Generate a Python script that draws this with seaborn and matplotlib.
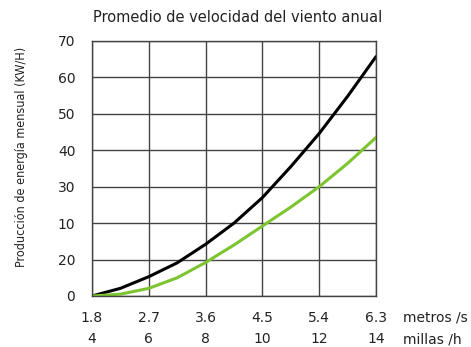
import pandas as pd
import matplotlib
matplotlib.use("Agg")
import matplotlib.pyplot as plt
import seaborn as sns

# wind speed (m/s) and matching mph labels
speed_ms = [1.8, 2.25, 2.7, 3.15, 3.6, 4.05, 4.5, 4.95, 5.4, 5.85, 6.3]
tick_ms = ["1.8", "2.7", "3.6", "4.5", "5.4", "6.3"]
tick_mph = ["4", "6", "8", "10", "12", "14"]

# monthly energy
energy_black = [0, 2.1, 5.3, 9.1, 14.2, 20.0, 27.0, 35.5, 44.6, 54.8, 65.7]
energy_green = [0, 0.5, 2.1, 5.0, 9.2, 14.0, 19.2, 24.4, 30.0, 36.4, 43.5]

# y tick labels as printed in the original (note 20 / 10 order)
ytick_vals = [0, 10, 20, 30, 40, 50, 60, 70]
ytick_labels = ["0", "20", "10", "30", "40", "50", "60", "70"]

df = pd.DataFrame({"speed": speed_ms, "black": energy_black, "green": energy_green})

sns.set_style("white")
plt.rcParams["font.family"] = ["DejaVu Sans"]

fig = plt.figure(figsize=(4.71, 3.47), dpi=100)
ax = fig.add_axes([0.1953, 0.147, 0.603, 0.735])

sns.lineplot(x="speed", y="black", data=df, ax=ax, color="black", linewidth=2.2)
sns.lineplot(x="speed", y="green", data=df, ax=ax, color="#7cc530", linewidth=2.2)

ax.set_xlim(1.8, 6.3)
ax.set_ylim(0, 70)
ax.set_xticks([float(t) for t in tick_ms])
ax.set_xticklabels([f"{a}\n{b}" for a, b in zip(tick_ms, tick_mph)], linespacing=1.6)
ax.set_yticks(ytick_vals)
ax.set_yticklabels(ytick_labels)
ax.tick_params(axis="both", length=0, labelsize=10, colors="#222222")
ax.tick_params(axis="x", pad=11)
ax.tick_params(axis="y", pad=12)

ax.grid(True, color="#444444", linewidth=1)
for s in ax.spines.values():
    s.set_color("#444444")
    s.set_linewidth(1)

ax.set_xlabel("")
ax.set_ylabel("Producción de energía mensual (KW/H)", fontsize=9, fontstretch="condensed",
              color="#222222")
ax.yaxis.set_label_coords(-0.225, 0.545)
fig.text(238 / 471, 1 - 17 / 347, "Promedio de velocidad del viento anual",
         fontsize=10.5, ha="center", va="center", color="#222222")

ax.text(1.095, -0.085, "metros /s", transform=ax.transAxes, fontsize=10, va="center", ha="left", color="#222222")
ax.text(1.095, -0.17, "millas /h", transform=ax.transAxes, fontsize=10, va="center", ha="left", color="#222222")

fig.savefig("out.png", dpi=100)
